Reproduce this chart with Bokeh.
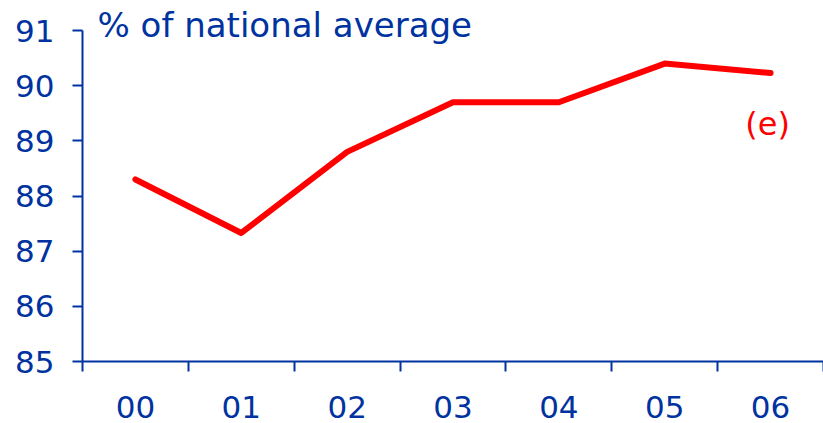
from bokeh.plotting import figure
from bokeh.models import FixedTicker, Range1d, Label
from bokeh.embed import file_html
from bokeh.resources import INLINE

years = ["00", "01", "02", "03", "04", "05", "06"]
values = [88.3, 87.33, 88.8, 89.7, 89.7, 90.4, 90.23]
y_ticks = [85, 86, 87, 88, 89, 90, 91]
title_text = "% of national average"
note_text = "(e)"

BLUE = "#0033a0"
RED = "#ff0000"
FONT = "DejaVu Sans"

xs = list(range(len(years)))

p = figure(width=823, height=423, output_backend="svg", toolbar_location=None,
           x_range=Range1d(-0.5, len(years) - 0.5), y_range=Range1d(85, 91),
           min_border_left=82, min_border_right=0, min_border_top=30, min_border_bottom=62)
p.outline_line_color = None
p.xgrid.visible = False
p.ygrid.visible = False
p.background_fill_color = "white"
p.border_fill_color = "white"

p.title.text = title_text
p.title.align = "left"
p.title.offset = 15
p.title.standoff = -28
p.title.text_color = BLUE
p.title.text_font = FONT
p.title.text_font_size = "34px"
p.title.text_font_style = "normal"

p.line(xs, values, line_color=RED, line_width=6, line_cap="round", line_join="round")

# x axis: labels at centres, ticks at category boundaries
xa = p.xaxis[0]
xa.ticker = FixedTicker(ticks=xs, minor_ticks=[i - 0.5 for i in range(len(years) + 1)])
xa.major_label_overrides = {i: y for i, y in enumerate(years)}
xa.major_tick_line_color = None
xa.minor_tick_line_color = BLUE
xa.minor_tick_line_width = 2
xa.minor_tick_out = 10
xa.minor_tick_in = 0
xa.axis_line_color = BLUE
xa.axis_line_width = 2
xa.major_label_text_color = BLUE
xa.major_label_text_font = FONT
xa.major_label_text_font_size = "31px"
xa.major_label_standoff = 24

ya = p.yaxis[0]
ya.ticker = FixedTicker(ticks=y_ticks)
ya.minor_tick_line_color = None
ya.major_tick_line_color = BLUE
ya.major_tick_line_width = 2
ya.major_tick_out = 10
ya.major_tick_in = 0
ya.axis_line_color = BLUE
ya.axis_line_width = 2
ya.major_label_text_color = BLUE
ya.major_label_text_font = FONT
ya.major_label_text_font_size = "31px"
ya.major_label_standoff = 18

p.add_layout(Label(x=len(years) - 1, y=89.31, x_offset=-3, text=note_text, text_color=RED,
                   text_font=FONT, text_font_size="32px", text_baseline="middle",
                   text_align="center"))

open("out.html", "w").write(file_html(p, INLINE))
